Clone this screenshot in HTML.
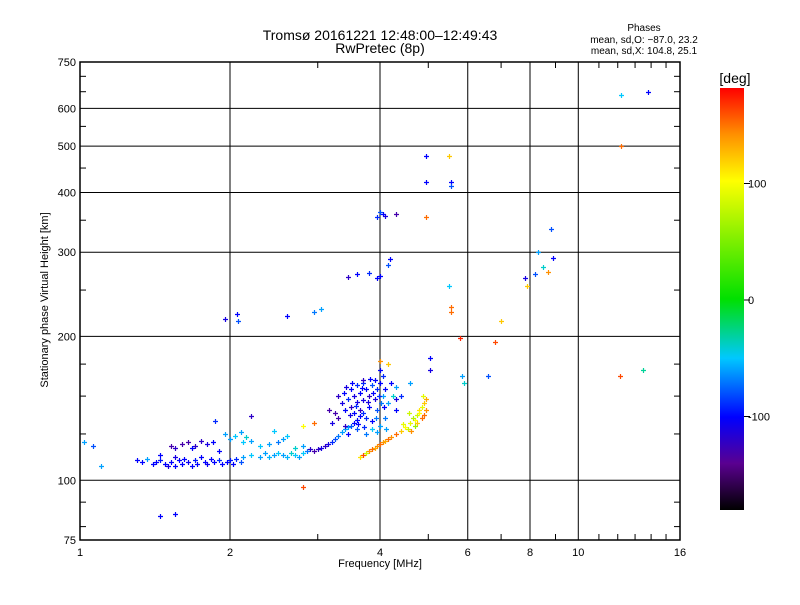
<!DOCTYPE html>
<html><head><meta charset="utf-8"><style>
body{margin:0;background:#fff;}
svg{font-family:"Liberation Sans",sans-serif;}
</style></head><body>
<svg id="c" width="800" height="600" xmlns="http://www.w3.org/2000/svg">
<defs><linearGradient id="cb" x1="0" y1="1" x2="0" y2="0">
<stop offset="0" stop-color="#000"/><stop offset="0.11" stop-color="#5a0090"/><stop offset="0.22" stop-color="#0000ff"/><stop offset="0.36" stop-color="#00c8ff"/><stop offset="0.5" stop-color="#00e000"/><stop offset="0.78" stop-color="#ffff00"/><stop offset="0.89" stop-color="#ff9000"/><stop offset="1" stop-color="#ff0000"/>
</linearGradient></defs>
<text x="380" y="40" font-size="14" text-anchor="middle">Tromsø 20161221 12:48:00–12:49:43</text>
<text x="380" y="53" font-size="14" text-anchor="middle">RwPretec (8p)</text>
<text x="644" y="31" font-size="10" text-anchor="middle">Phases</text>
<text x="644" y="43" font-size="10" text-anchor="middle">mean, sd,O: −87.0, 23.2</text>
<text x="644" y="54" font-size="10" text-anchor="middle">mean, sd,X: 104.8, 25.1</text>
<g id="grid"></g><g id="pts"></g><g id="axes"></g>
<text x="380" y="567" font-size="11" text-anchor="middle">Frequency [MHz]</text>
<text transform="translate(48,300) rotate(-90)" font-size="11" text-anchor="middle">Stationary phase Virtual Height [km]</text>
<rect x="720" y="88" width="24" height="422" fill="url(#cb)"/>
<text x="735" y="83" font-size="14" text-anchor="middle">[deg]</text>
<g id="cbt"></g>
</svg>
<script>
const xTicks=[1,2,4,6,8,10,16];
const yTicks=[75,100,200,300,400,500,600,750];
const cbTicks=[100,0,-100];
const points=[
[1.02,120,-60],[1.06,118,-80],[1.1,107,-60],[1.45,84,-100],[1.55,85,-100],[1.95,217,-110],[2.07,223,-100],[2.08,215,-80],[2.6,221,-100],[2.95,225,-70],[3.05,228,-60],[3.45,266,-120],[3.6,270,-100],[3.8,272,-90],[3.95,265,-100],[4.0,268,-100],[4.15,282,-80],[4.18,290,-100],[3.95,355,-90],[4.0,365,-80],[4.05,360,-100],[4.1,357,-110],[4.3,360,-130],[4.95,478,-100],[5.5,478,120],[4.95,420,-100],[5.55,420,-100],[5.55,412,-80],[4.95,355,150],[5.5,255,-50],[5.55,230,150],[5.55,225,150],[5.8,198,170],[6.8,195,160],[7.0,215,120],[7.8,265,-110],[7.9,255,120],[8.2,270,-80],[8.3,300,-60],[8.5,280,-40],[8.7,273,140],[8.8,335,-80],[8.9,292,-100],[12.2,640,-50],[12.2,500,150],[13.8,650,-100],[13.5,170,-30],[12.1,165,160],[5.85,165,-60],[6.6,165,-80],[5.9,160,-40],[5.05,180,-100],[5.05,170,-110],[2.8,97,160],[2.8,130,100],[2.95,132,150],[1.87,133,-90],[2.2,136,-120],
[1.3,110,-100],[1.33,109,-100],[1.36,111,-60],[1.4,108,-100],[1.42,109,-100],[1.45,110,-95],[1.48,108,-100],[1.5,107,-110],[1.52,109,-100],[1.55,112,-110],[1.55,107,-100],[1.58,110,-100],[1.6,108,-100],[1.62,111,-100],[1.65,109,-105],[1.68,107,-100],[1.7,110,-95],[1.72,108,-100],[1.75,112,-100],[1.78,109,-100],[1.8,108,-105],[1.83,111,-100],[1.86,109,-100],[1.9,110,-90],[1.93,108,-100],[1.97,109,-100],[2.0,110,-95],[2.03,108,-100],[2.06,111,-90],[2.1,109,-80],
[1.52,118,-130],[1.55,117,-120],[1.6,119,-130],[1.65,120,-130],[1.7,118,-120],[1.75,121,-120],[1.8,119,-110],[1.85,120,-100],[1.9,115,-100],[1.45,113,-100],[1.68,117,-100],
[2.12,112,-60],[2.2,113,-50],[2.3,112,-60],[2.35,114,-60],[2.4,112,-55],[2.45,113,-60],[2.5,114,-50],[2.55,113,-60],[2.6,112,-55],[2.65,114,-40],[2.7,113,-50],[2.75,112,-60],[2.8,114,-50],[2.85,115,-70],[2.9,116,-120],[2.95,115,-130],[3.0,116,-120],[3.05,117,-110],[3.1,118,-120],[3.15,119,-110],[3.2,120,-90],[3.25,122,-80],[3.3,124,-70],[3.35,126,-60],[3.4,128,-60],[3.45,129,-60],[3.5,130,-80],[3.55,132,-100],[3.6,134,-100],[3.65,136,-100],[3.7,138,-90],
[2.0,122,-60],[2.05,124,-50],[2.1,126,-60],[2.12,120,-50],[2.15,123,-40],[2.2,121,-60],[2.3,118,-50],[2.4,119,-60],[2.5,120,-70],[2.55,122,-60],[2.6,124,-50],[2.7,117,-40],[2.8,118,-60],[1.95,125,-60],[2.45,127,-50],
[3.3,150,-120],[3.35,145,-110],[3.4,140,-100],[3.45,148,-90],[3.5,155,-100],[3.5,142,-120],[3.55,150,-110],[3.55,138,-100],[3.6,158,-90],[3.6,146,-110],[3.65,140,-120],[3.65,152,-100],[3.7,160,-90],[3.7,147,-110],[3.75,155,-100],[3.75,135,-90],[3.8,150,-120],[3.8,142,-100],[3.85,158,-80],[3.85,133,-100],[3.9,162,-100],[3.9,148,-110],[3.95,155,-90],[3.95,140,-80],[4.0,160,-100],[4.0,130,-60],[4.02,145,-70],[4.05,165,-90],[4.05,150,-60],[4.1,155,-100],[4.1,135,-70],[4.15,145,-60],[4.2,160,-100],[4.25,150,-40],[4.3,148,-110],[3.4,130,-120],[3.3,135,-130],[3.45,125,-100],[3.6,128,-80],[3.75,125,-70],[3.85,128,-50],[3.95,126,-60],[4.0,170,-100],[3.7,162,-120],[3.25,138,-130],[3.2,132,-110],
[3.38,152,-100],[3.48,137,-110],[3.58,143,-90],[3.68,156,-100],[3.78,146,-110],[3.88,152,-100],[3.98,150,-90],[4.08,142,-100],[3.62,131,-100],[3.72,129,-90],[3.92,135,-70],[4.12,128,-60],[3.52,160,-100],[3.82,163,-100],[3.16,140,-130],[3.42,157,-110],
[3.8,115,140],[3.85,116,150],[3.9,117,130],[3.95,118,140],[4.0,119,150],[4.05,120,140],[4.1,121,130],[4.15,122,150],[4.2,123,140],[3.7,113,160],[3.75,114,80],[3.65,112,110],[4.3,125,150],[4.4,127,120],[4.5,129,100],[4.6,132,90],[4.7,134,100],[4.75,137,80],[4.8,140,110],[4.85,142,90],[4.9,145,120],[4.95,148,130],[4.55,128,80],[4.65,135,70],[4.7,130,60],[4.8,138,100],[4.9,137,150],[4.95,140,140],[4.3,140,-100],[4.4,150,-90],[4.15,175,120],[4.0,178,140],[4.6,160,-60],[4.3,157,-60],
[4.45,131,90],[4.62,127,140],[4.75,132,120],[4.85,135,150],[4.58,138,80],[4.88,150,90]
];
const L=80,R=680,T=62,B=540;
const X=f=>L+(R-L)*Math.log2(f)/4;
const Y=h=>B-(B-T)*Math.log10(h/75);
const CB=p=>300-p*1.165;
const stops=[[-180,[0,0,0]],[-140,[90,0,144]],[-100,[0,0,255]],[-50,[0,200,255]],[0,[0,224,0]],[100,[255,255,0]],[140,[255,144,0]],[180,[255,0,0]]];
function col(p){for(let i=1;i<stops.length;i++){if(p<=stops[i][0]){const a=stops[i-1],b=stops[i],t=(p-a[0])/(b[0]-a[0]);return 'rgb('+a[1].map((v,k)=>Math.round(v+(b[1][k]-v)*t)).join(',')+')';}}return 'rgb(255,0,0)';}
const NS='http://www.w3.org/2000/svg';
function mk(tag,at,par){const e=document.createElementNS(NS,tag);for(const k in at)e.setAttribute(k,at[k]);document.getElementById(par).appendChild(e);return e;}
xTicks.forEach(f=>{const x=X(f);
 const g=mk('line',{x1:x,x2:x,y1:T,y2:B,stroke:'#000','stroke-width':1},'grid');
 
 
 const t=mk('text',{x:x,y:B+16,'font-size':11,'text-anchor':'middle'},'axes');t.textContent=f;
 
 
});
yTicks.forEach(h=>{const y=Y(h);
 const g=mk('line',{x1:L,x2:R,y1:y,y2:y,stroke:'#000','stroke-width':1},'grid');
 
 
 const t=mk('text',{x:L-4,y:y+4,'font-size':11,'text-anchor':'end'},'axes');t.textContent=h;
 
 
});
[3,5,7,9,11,12,13,14,15].forEach(f=>{const x=X(f);mk('line',{x1:x,x2:x,y1:B,y2:B-6,stroke:'#000'},'axes');mk('line',{x1:x,x2:x,y1:T,y2:T+6,stroke:'#000'},'axes');});
[80,90,125,150,175,250,350,450,550,650,700].forEach(h=>{const y=Y(h);mk('line',{x1:L,x2:L+6,y1:y,y2:y,stroke:'#000'},'axes');mk('line',{x1:R,x2:R-6,y1:y,y2:y,stroke:'#000'},'axes');});
const fr=mk('rect',{x:L,y:T,width:R-L,height:B-T,fill:'none',stroke:'#000','stroke-width':1.5},'axes');


points.forEach(p=>{const x=Math.round(X(p[0])),y=Math.round(Y(p[1])),c=col(p[2]);
 const e=mk('path',{d:`M${x-2} ${y+.5}h5M${x+.5} ${y-2}v5`,stroke:c,'stroke-width':1.2},'pts');
 
 
});
cbTicks.forEach(v=>{const y=CB(v);
 mk('line',{x1:744,x2:750,y1:y,y2:y,stroke:'#000'},'cbt');
 const t=mk('text',{x:748,y:y+4,'font-size':11},'cbt');t.textContent=v;
 
 
});
</script>
</body></html>
